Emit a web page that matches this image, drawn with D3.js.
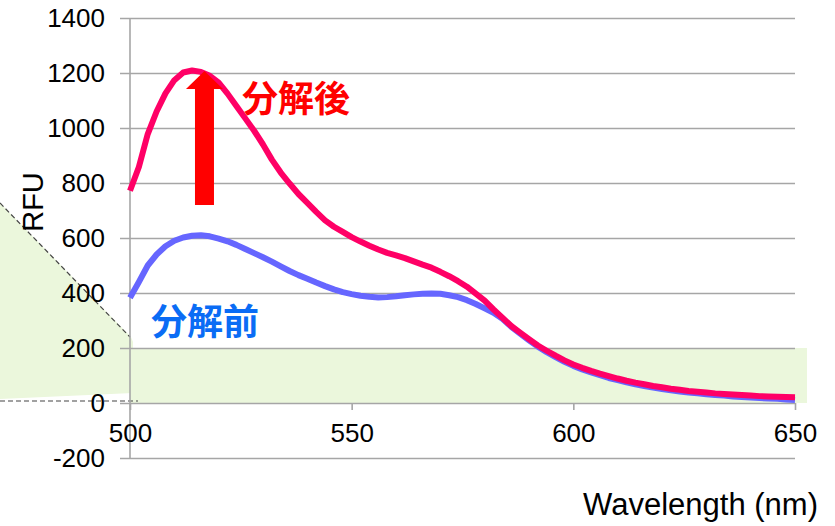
<!DOCTYPE html>
<html>
<head>
<meta charset="utf-8">
<script src="https://cdn.jsdelivr.net/npm/d3@7"></script>
<style>
  html, body { margin: 0; padding: 0; background: #fff; }
  svg { display: block; }
  text { font-family: "Liberation Sans", Arial, sans-serif; fill: #000; }
  .cjk { font-family: "Noto Sans CJK JP", sans-serif; font-weight: bold; }
</style>
</head>
<body>
<svg id="chart" width="835" height="526"></svg>
<script>
// Fluorescence emission spectra, before and after decomposition (2 nm steps)
const wavelength = [500,502,504,506,508,510,512,514,516,518,520,522,524,526,528,530,532,534,536,538,
  540,542,544,546,548,550,552,554,556,558,560,562,564,566,568,570,572,574,576,578,
  580,582,584,586,588,590,592,594,596,598,600,602,604,606,608,610,612,614,616,618,
  620,622,624,626,628,630,632,634,636,638,640,642,644,646,648,650];

// 分解後 (after)
const rfuAfter = [772,858,978,1060,1126,1174,1202,1209,1204,1190,1165,1125,1080,1035,990,940,885,838,798,760,
  728,695,664,641,622,603,587,572,558,546,537,527,515,503,492,477,461,443,423,398,
  372,340,310,280,256,232,209,190,172,155,140,128,117,107,98,89,81,74,68,62,
  57,52,48,44,41,38,35,33,31,29,27,25,24,23,22,21];

// 分解前 (before)
const rfuBefore = [383,440,500,540,570,590,602,608,610,606,598,588,575,560,545,530,514,497,480,465,
  452,438,425,413,403,396,390,386,384,385,388,392,395,397,398,397,392,385,374,360,
  344,328,306,277,252,228,205,185,167,150,135,122,111,101,91,83,75,68,62,56,
  51,46,42,38,35,32,29,27,24,22,20,18,16,15,13,11];

const xTicks = [500, 550, 600, 650];
const yTicks = [-200, 0, 200, 400, 600, 800, 1000, 1200, 1400];

const svg = d3.select("#chart");
const x = d3.scaleLinear().domain([500, 650]).range([130, 795]);
const y = d3.scaleLinear().domain([-200, 1400]).range([458, 18]);
const fmt = d => String(d);

// Highlight band (0–200 RFU) with a callout pointer to the left
const band = svg.append("g");
band.append("polygon")
  .attr("points", [[0, 203], [x(500) + 1, 337], [x(500) + 3, 342], [x(500) + 3, 393], [0, 399]].map(p => p.join(",")).join(" "))
  .attr("fill", "#ebf7dc");
band.append("rect")
  .attr("x", x(500)).attr("y", y(200))
  .attr("width", 807 - x(500)).attr("height", y(0) - y(200))
  .attr("fill", "#ebf7dc");
band.append("line")
  .attr("x1", 0).attr("y1", 203).attr("x2", x(500)).attr("y2", 337)
  .attr("stroke", "#444").attr("stroke-width", 1.2).attr("stroke-dasharray", "5,3");
band.append("line")
  .attr("x1", 0).attr("y1", 401).attr("x2", x(500) + 8).attr("y2", 401)
  .attr("stroke", "#444").attr("stroke-width", 1.2).attr("stroke-dasharray", "5,3");

// Y axis with gridlines
const yAxis = svg.append("g")
  .attr("transform", `translate(${x(500)},0)`)
  .call(d3.axisLeft(y).tickValues(yTicks).tickFormat(fmt).tickSizeOuter(0).tickSizeInner(0).tickPadding(25));
yAxis.select(".domain").remove();
yAxis.selectAll(".tick line")
  .attr("x1", -10).attr("x2", x(650) - x(500))
  .attr("stroke", "#a6a6a6").attr("stroke-width", 1.6);
yAxis.selectAll(".tick text")
  .attr("font-size", 26).attr("font-family", "Liberation Sans, Arial, sans-serif").attr("fill", "#000");

svg.append("line")
  .attr("x1", x(500)).attr("x2", x(500)).attr("y1", y(1400)).attr("y2", y(-200))
  .attr("stroke", "#a6a6a6").attr("stroke-width", 1.6);

// X axis on the zero line
const xAxis = svg.append("g")
  .attr("transform", `translate(0,${y(0)})`)
  .call(d3.axisBottom(x).tickValues(xTicks).tickFormat(fmt).tickSizeOuter(0).tickSize(7).tickPadding(14));
xAxis.select(".domain").remove();
xAxis.selectAll(".tick line").attr("stroke", "#a6a6a6").attr("stroke-width", 1.6);
xAxis.selectAll(".tick text")
  .attr("font-size", 26).attr("font-family", "Liberation Sans, Arial, sans-serif").attr("fill", "#000");

// Spectra
const line = d3.line().x((d, i) => x(wavelength[i])).y(d => y(d));
svg.append("path").datum(rfuBefore)
  .attr("d", line).attr("fill", "none")
  .attr("stroke", "#6666ff").attr("stroke-width", 6).attr("stroke-linejoin", "round");
svg.append("path").datum(rfuAfter)
  .attr("d", line).attr("fill", "none")
  .attr("stroke", "#ff0066").attr("stroke-width", 6).attr("stroke-linejoin", "round");

// Increase arrow
const ax = x(516.8), tip = y(1207), bottom = y(720);
const headBase = tip + 18, shaftHalf = 9.5, headHalf = 18.5;
svg.append("polygon")
  .attr("points", [
    [ax - shaftHalf, bottom], [ax - shaftHalf, headBase], [ax - headHalf, headBase],
    [ax, tip], [ax + headHalf, headBase], [ax + shaftHalf, headBase], [ax + shaftHalf, bottom]
  ].map(p => p.join(",")).join(" "))
  .attr("fill", "#ff0000");

// Series labels
svg.append("text").attr("class", "cjk")
  .attr("x", 242).attr("y", 112).attr("font-size", 36)
  .style("fill", "#ff0000").text("分解後");
svg.append("text").attr("class", "cjk")
  .attr("x", 151).attr("y", 335).attr("font-size", 36)
  .style("fill", "#0a6cf5").text("分解前");

// Axis titles
svg.append("text")
  .attr("transform", "translate(43,202) rotate(-90)")
  .attr("text-anchor", "middle").attr("font-size", 29).text("RFU");
svg.append("text")
  .attr("x", 818).attr("y", 515).attr("text-anchor", "end")
  .attr("font-size", 31).text("Wavelength (nm)");
</script>
</body>
</html>
